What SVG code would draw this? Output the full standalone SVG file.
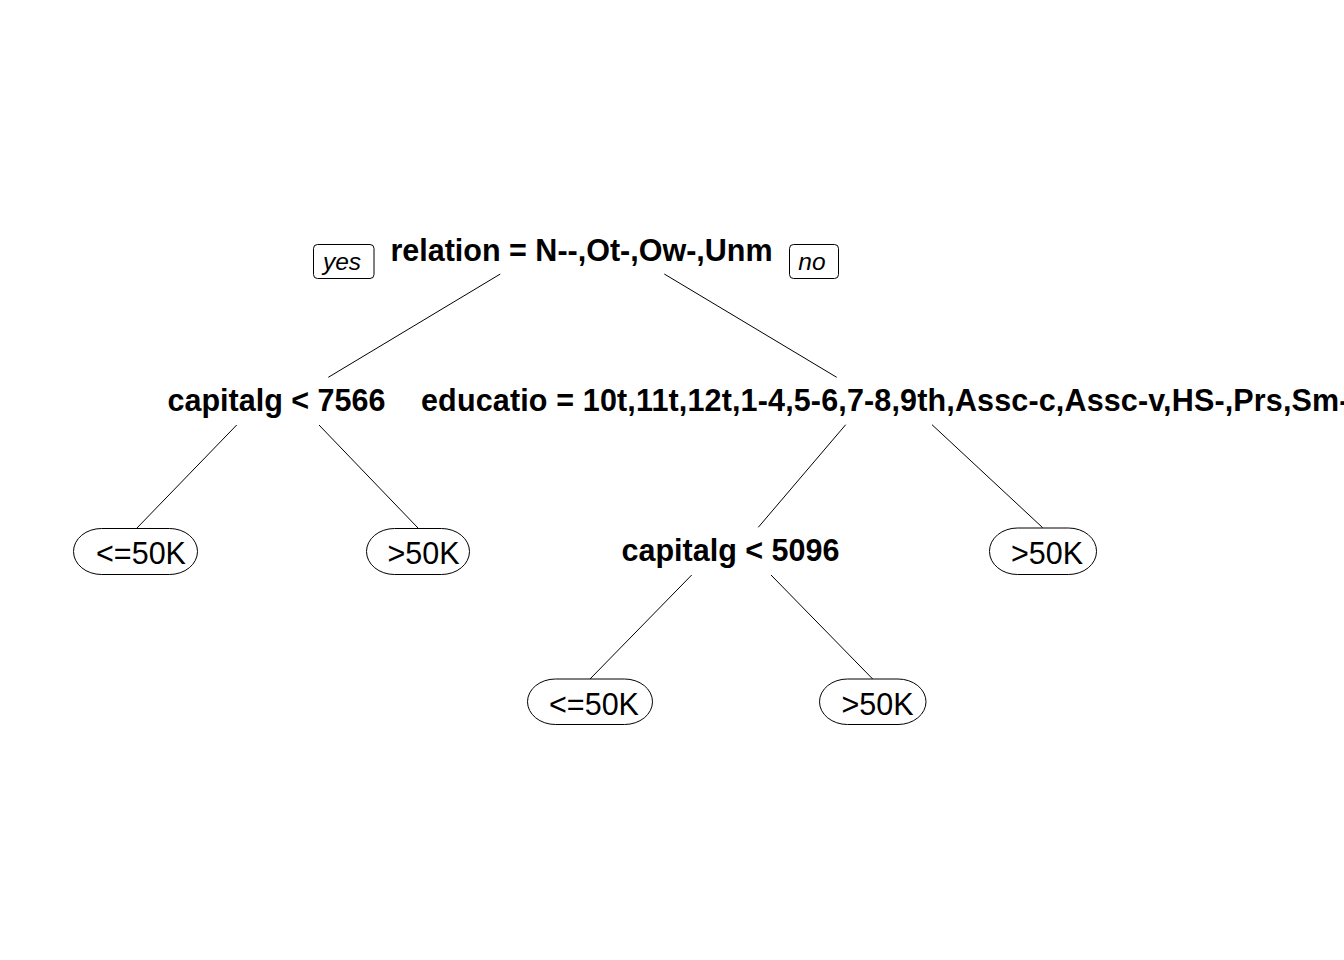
<svg xmlns="http://www.w3.org/2000/svg" width="1344" height="960" viewBox="0 0 1344 960">
<style>
.split{font-family:"Liberation Sans",Arial,sans-serif;font-weight:bold;font-size:30.5px;fill:#000}
.leaf text{font-family:"Liberation Sans",Arial,sans-serif;font-size:30.5px;fill:#000;text-anchor:middle}
.leaf rect{fill:#fff;stroke:#000;stroke-width:1}
.yn rect{fill:#fff;stroke:#000;stroke-width:1}
.yn text{font-family:"Liberation Sans",Arial,sans-serif;font-style:italic;font-size:24.5px;fill:#000;text-anchor:middle}
.conn line{stroke:#000;stroke-width:1}
</style>
<rect width="1344" height="960" fill="#fff"/>
<g id="connectors" class="conn">
<line x1="500.3" y1="274" x2="328.3" y2="377.3"/>
<line x1="664.3" y1="274" x2="836.7" y2="377.3"/>
<line x1="236.7" y1="425" x2="136.7" y2="528.3"/>
<line x1="319" y1="425" x2="418.3" y2="528.3"/>
<line x1="845.7" y1="424.7" x2="758.3" y2="527.3"/>
<line x1="932" y1="424.7" x2="1042.7" y2="527.7"/>
<line x1="691.7" y1="575" x2="590" y2="679"/>
<line x1="771" y1="575" x2="872.7" y2="679"/>
</g>
<g id="node-root">
<text class="split" x="581.5" y="260.5" text-anchor="middle">relation = N--,Ot-,Ow-,Unm</text>
<g class="yn">
<rect x="313.5" y="244.5" width="60.5" height="34" rx="4" ry="4"/>
<text x="342" y="270">yes</text>
<rect x="789.5" y="244.5" width="49" height="34" rx="4" ry="4"/>
<text x="812" y="270">no</text>
</g>
</g>
<g id="node-capitalg7566">
<text class="split" x="276.5" y="410.5" text-anchor="middle">capitalg &lt; 7566</text>
</g>
<g id="node-educatio">
<text class="split" x="421" y="410.5" text-anchor="start" letter-spacing="0.15">educatio = 10t,11t,12t,1-4,5-6,7-8,9th,Assc-c,Assc-v,HS-,Prs,Sm-</text>
</g>
<g id="node-capitalg5096">
<text class="split" x="730.5" y="560.5" text-anchor="middle">capitalg &lt; 5096</text>
</g>
<g id="leaf-1" class="leaf">
<rect x="73.5" y="528.5" width="124" height="46" rx="28" ry="23"/>
<text x="141" y="564">&lt;=50K</text>
</g>
<g id="leaf-2" class="leaf">
<rect x="366.5" y="528.5" width="103" height="46" rx="28" ry="23"/>
<text x="423.5" y="564">&gt;50K</text>
</g>
<g id="leaf-3" class="leaf">
<rect x="527.5" y="679" width="125" height="45.5" rx="28" ry="23"/>
<text x="594" y="714.5">&lt;=50K</text>
</g>
<g id="leaf-4" class="leaf">
<rect x="819.5" y="679" width="106.5" height="45.5" rx="28" ry="23"/>
<text x="877.5" y="714.5">&gt;50K</text>
</g>
<g id="leaf-5" class="leaf">
<rect x="989.5" y="528" width="107" height="46.5" rx="28" ry="23"/>
<text x="1047" y="564">&gt;50K</text>
</g>
</svg>
